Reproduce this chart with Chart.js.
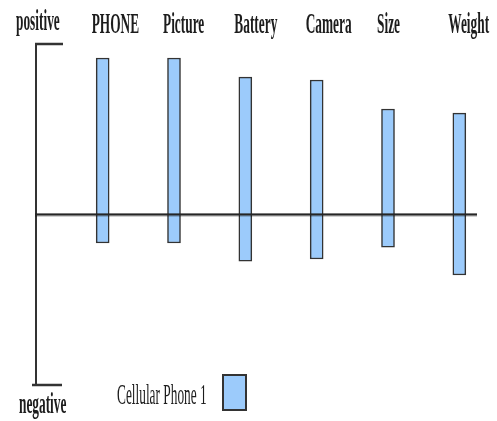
<!DOCTYPE html>
<html><head><meta charset="utf-8">
<script src="https://cdn.jsdelivr.net/npm/chart.js@4"></script>
<style>html,body{margin:0;padding:0;background:#fff}canvas{display:block}</style>
</head><body>
<canvas id="c" width="497" height="421"></canvas>
<script>
// ---- data ----
const categories = ['PHONE', 'Picture', 'Battery', 'Camera', 'Size', 'Weight'];
const lowValues  = [-1.67, -1.67, -2.73, -2.61, -1.91, -3.55];
const highValues = [ 9.18,  9.18,  8.06,  7.89,  6.19,  5.95];
const axisRange  = [-10, 10];
const axisEndLabels = ['negative', 'positive'];
const seriesName = 'Cellular Phone 1';

// ---- styles ----
const FILL = '#9ccbfb', EDGE = '#333333', INK = '#1c1c1c';
const SERIF = '"Liberation Serif", "Times New Roman", serif';
const SQX = 0.46;

function squishText(ctx, text, x, y, font) {
  ctx.save();
  ctx.font = font;
  ctx.fillStyle = INK;
  ctx.textAlign = 'left';
  ctx.textBaseline = 'alphabetic';
  ctx.translate(x, y);
  ctx.scale(SQX, 1);
  ctx.fillText(text, 0, 0);
  ctx.restore();
}

const decor = {
  id: 'decor',
  afterDatasetsDraw(chart) {
    const ctx = chart.ctx, area = chart.chartArea;
    const ys = chart.scales.y, xs = chart.scales.x;
    const yTop = ys.getPixelForValue(axisRange[1]);
    const yBot = ys.getPixelForValue(axisRange[0]);
    const yZero = ys.getPixelForValue(0);
    const axX = area.left - 31;
    ctx.save();
    ctx.strokeStyle = EDGE;
    ctx.lineCap = 'butt';
    // vertical axis
    ctx.lineWidth = 2;
    ctx.beginPath(); ctx.moveTo(axX, yTop - 1); ctx.lineTo(axX, yBot + 1); ctx.stroke();
    // end ticks
    ctx.lineWidth = 2.5;
    ctx.beginPath(); ctx.moveTo(axX - 1, yTop); ctx.lineTo(axX + 27, yTop); ctx.stroke();
    ctx.beginPath(); ctx.moveTo(axX - 4, yBot); ctx.lineTo(axX + 26, yBot); ctx.stroke();
    // zero line
    ctx.strokeStyle = 'rgba(0,0,0,0.18)';
    ctx.lineWidth = 4;
    ctx.beginPath(); ctx.moveTo(axX - 1, yZero + 0.5); ctx.lineTo(area.right - 18, yZero + 0.5); ctx.stroke();
    ctx.strokeStyle = '#262626';
    ctx.lineWidth = 2;
    ctx.beginPath(); ctx.moveTo(axX - 1, yZero); ctx.lineTo(area.right - 18, yZero); ctx.stroke();
    ctx.restore();

    // category labels
    const bold = 'bold 29px ' + SERIF;
    categories.forEach((c, i) => {
      squishText(ctx, c, xs.getPixelForValue(i) - 11, area.top - 11, bold);
    });
    // axis end labels
    squishText(ctx, axisEndLabels[1], axX - 20, yTop - 14, bold);
    squishText(ctx, axisEndLabels[0], axX - 17, yBot + 28, bold);

    // legend
    const ds = chart.data.datasets[0];
    squishText(ctx, ds.label, 117, 404, '29px ' + SERIF);
    ctx.save();
    ctx.fillStyle = ds.backgroundColor;
    ctx.strokeStyle = EDGE;
    ctx.lineWidth = 2;
    ctx.fillRect(223, 375, 23, 35);
    ctx.strokeRect(223, 375, 23, 35);
    ctx.restore();
  }
};

new Chart(document.getElementById('c'), {
  type: 'bar',
  data: {
    labels: categories,
    datasets: [{
      label: seriesName,
      data: categories.map((_, i) => [lowValues[i], highValues[i]]),
      backgroundColor: FILL,
      borderColor: EDGE,
      borderWidth: 1.5,
      borderSkipped: false,
      barThickness: 13
    }]
  },
  options: {
    responsive: false,
    animation: false,
    layout: { padding: { left: 67, right: 2, top: 44, bottom: 36 } },
    plugins: { legend: { display: false }, tooltip: { enabled: false } },
    scales: {
      x: { display: false, offset: true },
      y: { display: false, min: axisRange[0], max: axisRange[1] }
    }
  },
  plugins: [decor]
});
</script>
</body></html>
